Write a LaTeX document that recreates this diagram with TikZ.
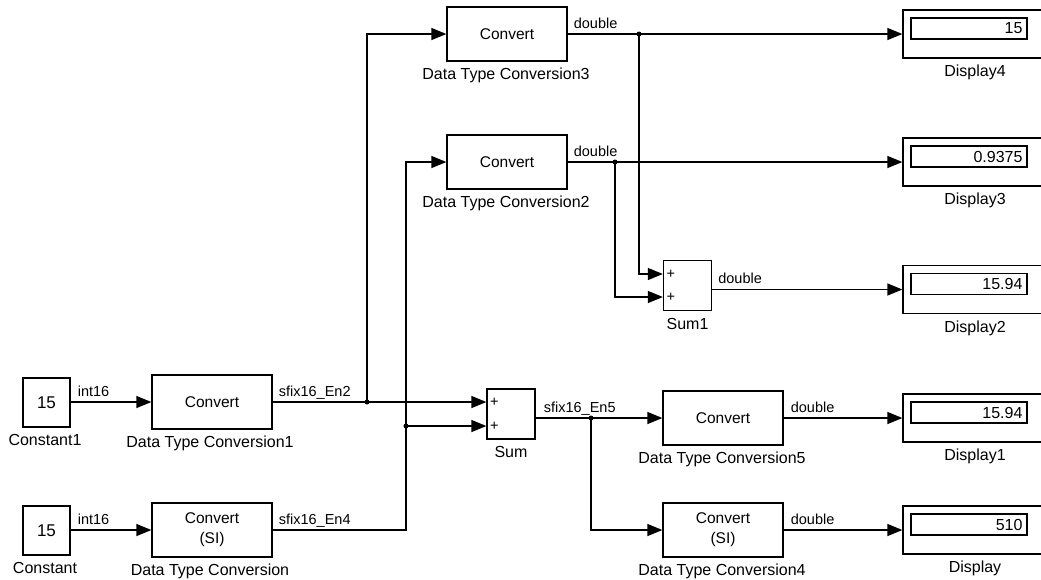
\documentclass[tikz,border=0pt]{standalone}
\usepackage{fontspec}
\setmainfont{Liberation Sans}
\usetikzlibrary{arrows.meta,calc}
\newcommand{\mkdisp}[4]{%
  \node[dispbox] (#1) at (975,#2) {};
  \node[valbox] (#1v) at ($(#1.center)+(-6,-5.5)$) {};
  \node[valtxt] at ($(#1v.east)+(-5,0)$) {#3};
  \node[blabel] at ($(#1.south)+(0,18)$) {#4};
}
\begin{document}
\begin{tikzpicture}[x=1pt,y=-1pt,
  wire/.style={line width=1.3pt},
  arr/.style={wire,-{Triangle[length=15pt,width=12pt]}},
  blk/.style={draw,line width=1.3pt,minimum width=120pt,minimum height=54pt,inner sep=0pt,
    align=center,font=\fontsize{15.5}{20}\selectfont},
  cst/.style={draw,line width=1.3pt,minimum width=47pt,minimum height=49pt,inner sep=0pt,
    font=\fontsize{17}{20}\selectfont},
  sumblk/.style={draw,line width=1.3pt,minimum width=48pt,minimum height=50pt,inner sep=0pt},
  plus/.style={inner sep=0pt,font=\fontsize{14.5}{16}\selectfont},
  dispbox/.style={draw,line width=1.3pt,minimum width=144pt,minimum height=48pt,inner sep=0pt},
  valbox/.style={draw,line width=1.3pt,minimum width=116pt,minimum height=21pt,inner sep=0pt},
  valtxt/.style={anchor=east,inner sep=0pt,font=\fontsize{16}{18}\selectfont},
  blabel/.style={anchor=base,inner sep=0pt,font=\fontsize{16}{18}\selectfont},
  sig/.style={anchor=base west,inner sep=0pt,font=\fontsize{14.5}{16}\selectfont},
  jdot/.style={fill,circle,inner sep=0pt,minimum size=5pt}
]
\clip (0,0) rectangle (1041,579);
\fill[white] (0,0) rectangle (1041,579);

% sources
\node[cst] (c1) at (46.5,402.5) {15};
\node[blabel] at ($(c1.south)+(-1.5,18)$) {Constant1};
\node[cst] (c0) at (46.5,530.5) {15};
\node[blabel] at ($(c0.south)+(-1.5,18)$) {Constant};

% conversions
\node[blk] (dtc1) at (212,402) {Convert};
\node[blabel] at ($(dtc1.south)+(-2,18)$) {Data Type Conversion1};
\node[blk] (dtc0) at (212,530) {Convert\\(SI)};
\node[blabel] at ($(dtc0.south)+(-2,18)$) {Data Type Conversion};
\node[blk] (dtc3) at (507,34) {Convert};
\node[blabel] at ($(dtc3.south)+(-1,18)$) {Data Type Conversion3};
\node[blk] (dtc2) at (507,162) {Convert};
\node[blabel] at ($(dtc2.south)+(-1,18)$) {Data Type Conversion2};
\node[blk] (dtc5) at (723,418) {Convert};
\node[blabel] at ($(dtc5.south)+(-1,18)$) {Data Type Conversion5};
\node[blk] (dtc4) at (723,530) {Convert\\(SI)};
\node[blabel] at ($(dtc4.south)+(-1,18)$) {Data Type Conversion4};

% sums
\node[sumblk] (sum) at (511,414) {};
\node[plus] at ($(sum.west)+(8,-12)$) {+};
\node[plus] at ($(sum.west)+(8,12)$) {+};
\node[blabel] at ($(sum.south)+(0,18)$) {Sum};
\node[sumblk] (sum1) at (687.5,285.5) {};
\node[plus] at ($(sum1.west)+(8,-11.5)$) {+};
\node[plus] at ($(sum1.west)+(8,11.5)$) {+};
\node[blabel] at ($(sum1.south)+(0,18)$) {Sum1};

% displays
\mkdisp{disp4}{34}{15}{Display4}
\mkdisp{disp3}{162}{0.9375}{Display3}
\mkdisp{disp2}{289.5}{15.94}{Display2}
\mkdisp{disp1}{418}{15.94}{Display1}
\mkdisp{disp0}{530}{510}{Display}

% junctions
\coordinate (j1) at (367,402);
\coordinate (j2) at (406,426);
\coordinate (j3) at (591,418);
\coordinate (j4) at (639,34);
\coordinate (j5) at (615,162);

% wires
\draw[arr] (c1.east |- dtc1.west) -- (dtc1.west);
\draw[arr] (c0.east |- dtc0.west) -- (dtc0.west);
\draw[wire] (dtc1.east) -- (j1);
\draw[arr] (j1) -- (sum.west |- j1);
\draw[arr] (j1) |- (dtc3.west);
\draw[arr] (dtc0.east) -| (j2) |- (dtc2.west);
\draw[arr] (j2) -- (sum.west |- j2);
\draw[wire] (sum.east |- j3) -- (j3);
\draw[arr] (j3) -- (dtc5.west);
\draw[arr] (j3) |- (dtc4.west);
\draw[arr] (dtc5.east) -- (disp1.west);
\draw[arr] (dtc4.east) -- (disp0.west);
\draw[wire] (dtc3.east) -- (j4);
\draw[arr] (j4) -- (disp4.west);
\draw[arr] (j4) |- ($(sum1.west)+(0,-11.5)$);
\draw[wire] (dtc2.east) -- (j5);
\draw[arr] (j5) -- (disp3.west);
\draw[arr] (j5) |- ($(sum1.west)+(0,11.5)$);
\draw[arr] (sum1.east |- disp2.west) -- (disp2.west);

\foreach \j in {j1,j2,j3,j4,j5} \node[jdot] at (\j) {};

% signal labels
\node[sig] at ($(c1.east |- dtc1.west)+(7,-6)$) {int16};
\node[sig] at ($(c0.east |- dtc0.west)+(7,-6)$) {int16};
\node[sig] at ($(dtc1.east)+(6,-6)$) {sfix16\_En2};
\node[sig] at ($(dtc0.east)+(6,-6)$) {sfix16\_En4};
\node[sig] at ($(sum.east |- j3)+(8,-6)$) {sfix16\_En5};
\node[sig] at ($(dtc3.east)+(6,-6)$) {double};
\node[sig] at ($(dtc2.east)+(6,-6)$) {double};
\node[sig] at ($(sum1.east |- disp2.west)+(6,-6)$) {double};
\node[sig] at ($(dtc5.east)+(7,-6)$) {double};
\node[sig] at ($(dtc4.east)+(7,-6)$) {double};
\end{tikzpicture}
\end{document}
